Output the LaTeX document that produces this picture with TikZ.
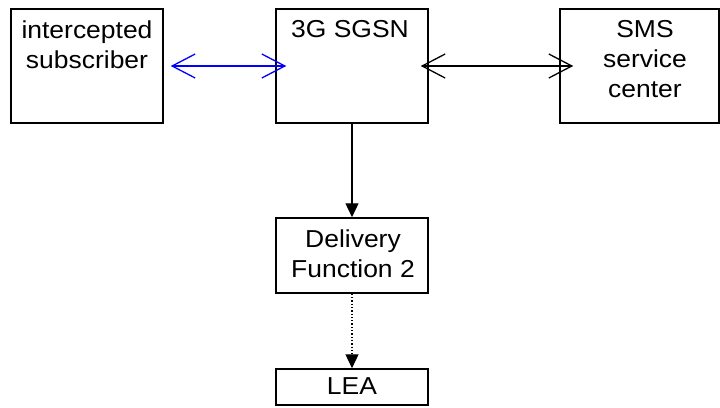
\documentclass[tikz,border=0pt]{standalone}
\usepackage{fontspec}
\setmainfont{Liberation Sans}[FakeStretch=1.08]
\usetikzlibrary{arrows.meta}
\begin{document}
\begin{tikzpicture}[x=1pt,y=-1pt,
  box/.style={draw=black, line width=1.5pt, inner sep=0pt, minimum width=152pt},
  lbl/.style={anchor=north, align=center, inner sep=0pt, font=\fontsize{24.5}{30}\selectfont},
  barbtip/.tip={Straight Barb[length=23pt,width=24pt,line width=1.3pt]},
  barb/.style={line width=1.3pt, barbtip-barbtip},
  solidarrow/.style={line width=1.3pt, -{Triangle[length=14pt,width=13pt]}}]
\useasboundingbox (0,0) rectangle (720,407);
\node[box, minimum height=114pt] (sub) at (87,66) {};
\node[box, minimum height=114pt] (sgsn) at (352,66) {};
\node[box, minimum height=114pt, minimum width=159pt] (sms) at (639.5,66) {};
\node[box, minimum height=75pt] (df) at (352,255.5) {};
\node[box, minimum height=36pt] (lea) at (352,387) {};
\node[lbl] (subl) at (87,20.5) {intercepted\\subscriber};
\node[lbl] (sgsnl) at (350,20.5) {3G SGSN};
\node[lbl] (smsl) at (645,20.5) {SMS\\service\\center};
\node[lbl] (dfl) at (353,229.3) {Delivery\\Function 2};
\node[lbl] (leal) at (352,377.6) {LEA};
\draw[barb, blue, shorten <=7pt, shorten >=-11pt] (sub.east) -- (sgsn.west);
\draw[barb, black, shorten <=-8pt, shorten >=-14pt] (sgsn.east) -- (sms.west);
\draw[solidarrow] (sgsn.south) -- (df.north);
\draw[solidarrow, dotted] (df.south) -- (lea.north);
\end{tikzpicture}
\end{document}
